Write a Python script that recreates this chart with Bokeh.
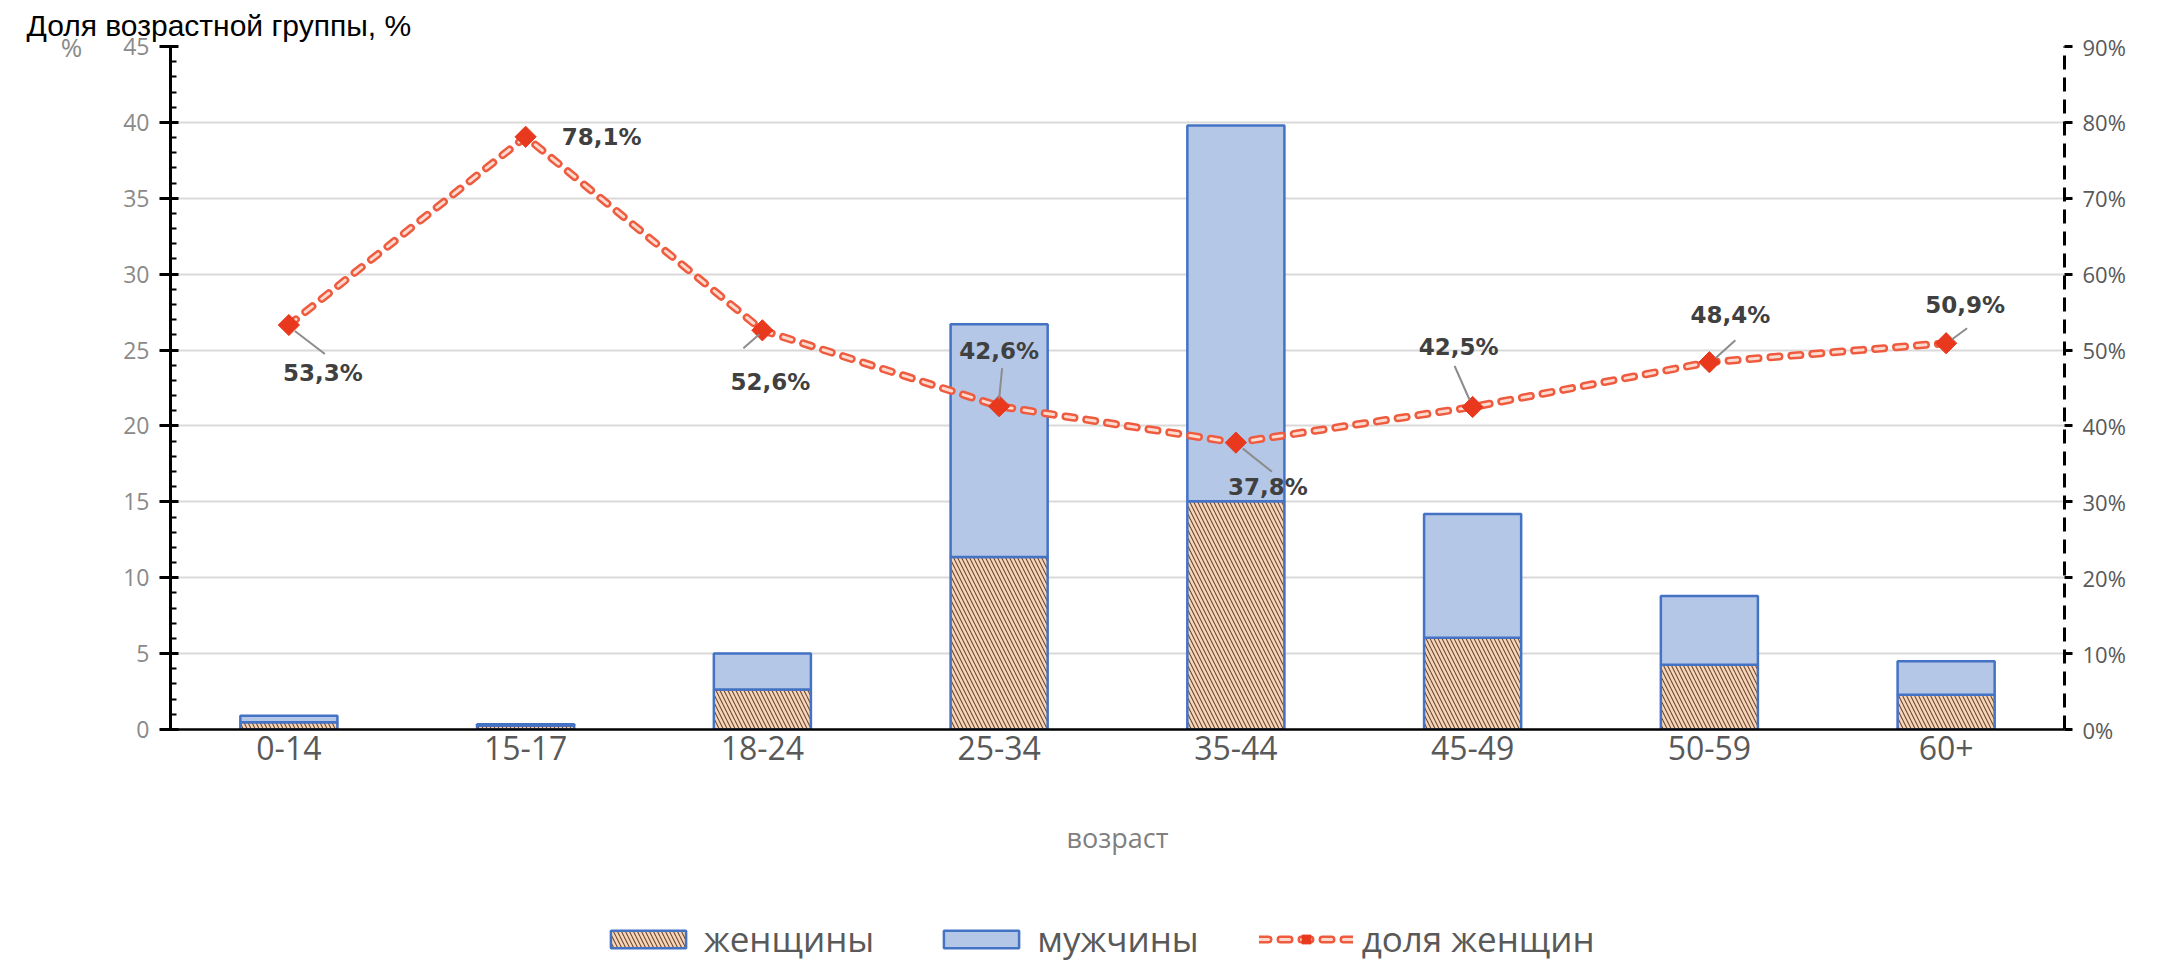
from bokeh.plotting import figure
from bokeh.layouts import column
from bokeh.models import (Range1d, LinearAxis, FixedTicker, Legend, LegendItem,
                          ColumnDataSource)
from bokeh.core.properties import value
from bokeh.embed import file_html
from bokeh.resources import INLINE

# ---- data ----
ages = ["0-14", "15-17", "18-24", "25-34", "35-44", "45-49", "50-59", "60+"]
women = [0.48, 0.27, 2.63, 11.37, 15.04, 6.04, 4.26, 2.29]
men = [0.42, 0.08, 2.37, 15.33, 24.76, 8.16, 4.54, 2.21]
share = [53.3, 78.1, 52.6, 42.6, 37.8, 42.5, 48.4, 50.9]
left_ticks = [0, 5, 10, 15, 20, 25, 30, 35, 40, 45]
right_ticks = [0, 10, 20, 30, 40, 50, 60, 70, 80, 90]
series_names = ["женщины", "мужчины", "доля женщин"]

# ---- label placement (screen px, y down) ----
lab_dx = [34, 76, 8, 0, 32, -14, 21, 19]
lab_dy = [48, 0, 52, -55, 44, -60, -47, -38]
lead = [(6, 6, 36, 29), None, (-3, 4, -19, 18), (0, -7, 3, -38),
        (7, 6, 36, 29), (-3, -7, -18, -41), (6, -4, 26, -22), (6, -4, 21, -15)]

W = 2141
HM, HL = 862, 100
ML, MR, MT = 170, 77, 46
FB = 729
MB = HM - FB
FW, FH = W - ML - MR, FB - MT
PX_X = FW / len(ages)
PX_Y = FH / 90.0

FONT = "Open Sans"
BLUE_EDGE = "#4472C4"
BLUE_FILL = "#B4C7E7"
PEACH = "#F6D6B8"
HATCH = "#6E4634"
LINE_RED = "#EF5B3F"
LINE_IN = "#FCDACE"
MARK = "#E8381E"

p = figure(width=W, height=HM, x_range=Range1d(-0.5, len(ages) - 0.5),
           y_range=Range1d(0, 45), output_backend="svg", toolbar_location=None,
           min_border_left=ML, min_border_right=MR, min_border_top=MT,
           min_border_bottom=MB)
p.extra_y_ranges = {"pct": Range1d(0, 90)}
p.outline_line_color = None
p.background_fill_color = "white"
p.border_fill_color = "white"

p.title.text = "Доля возрастной группы, %"
p.title.align = "left"
p.title.offset = -(ML - 26)
p.title.text_font = "Liberation Sans"
p.title.text_font_size = "30px"
p.title.text_font_style = "normal"
p.title.text_color = "black"
p.title.standoff = 10

xs = list(range(len(ages)))
src = ColumnDataSource(dict(x=xs, women=women, men=men, share=share,
                            lab=[f"{v:.1f}%".replace(".", ",") for v in share],
                            dx=lab_dx, dy=lab_dy))

bar_kw = dict(line_color=BLUE_EDGE, line_width=2.5, hatch_color=HATCH,
              hatch_weight=1.1, hatch_scale=8)
p.vbar_stack(["women", "men"], x="x", width=0.41, source=src,
             fill_color=[PEACH, BLUE_FILL], hatch_pattern=["\\", " "], **bar_kw)

line_out_kw = dict(line_color=LINE_RED, line_width=8, line_dash="9 12", line_cap="round")
line_in_kw = dict(line_color=LINE_IN, line_width=3, line_dash="9 12", line_cap="round")
mark_kw = dict(marker="square", angle=0.7854, size=15, fill_color=MARK, line_color=MARK)

p.line("x", "share", source=src, y_range_name="pct", **line_out_kw)
p.line("x", "share", source=src, y_range_name="pct", **line_in_kw)
p.scatter("x", "share", source=src, y_range_name="pct", **mark_kw)

# leader lines
x0, y0, x1, y1 = [], [], [], []
for i, ld in enumerate(lead):
    if ld is None:
        continue
    a, b, c, d = ld
    x0.append(xs[i] + a / PX_X); y0.append(share[i] - b / PX_Y)
    x1.append(xs[i] + c / PX_X); y1.append(share[i] - d / PX_Y)
p.segment(x0, y0, x1, y1, y_range_name="pct", line_color="#8C8C8C", line_width=2)

p.text(x="x", y="share", text="lab", x_offset="dx", y_offset="dy", source=src,
       y_range_name="pct", text_font=value("DejaVu Sans"), text_font_style="bold",
       text_font_size="23px", text_color="#404040", text_align="center",
       text_baseline="middle")

# left axis
yl = p.yaxis[0]
yl.ticker = FixedTicker(ticks=left_ticks, minor_ticks=list(range(0, 46)))
yl.axis_line_color = "black"
yl.axis_line_width = 3
yl.major_tick_line_color = "black"
yl.major_tick_line_width = 3
yl.major_tick_out = 11
yl.major_tick_in = 8
yl.minor_tick_line_color = "black"
yl.minor_tick_line_width = 2
yl.minor_tick_in = 6
yl.minor_tick_out = 0
yl.major_label_text_color = "#8A8A8A"
yl.major_label_text_font = FONT
yl.major_label_text_font_size = "23px"
yl.major_label_standoff = 10
yl.axis_label = "%"
yl.axis_label_text_color = "#8A8A8A"
yl.axis_label_text_font = FONT
yl.axis_label_text_font_size = "26px"
yl.axis_label_text_font_style = "normal"
yl.axis_label_standoff = 38
props = yl.properties()
if "axis_label_orientation" in props:
    yl.axis_label_orientation = "horizontal"
if "axis_label_align" in props:
    yl.axis_label_align = "end"

p.ygrid.grid_line_color = "#D9D9D9"
p.ygrid.grid_line_width = 2
p.xgrid.visible = False

# right axis
ra = LinearAxis(y_range_name="pct", ticker=FixedTicker(ticks=right_ticks),
                major_label_overrides={t: f"{t}%" for t in right_ticks})
ra.axis_line_color = "black"
ra.axis_line_width = 3
ra.axis_line_dash = "14 8"
ra.major_tick_line_color = "black"
ra.major_tick_line_width = 3
ra.major_tick_out = 8
ra.major_tick_in = 0
ra.minor_tick_line_color = None
ra.major_label_text_color = "#595959"
ra.major_label_text_font = FONT
ra.major_label_text_font_size = "22px"
ra.major_label_standoff = 10
p.add_layout(ra, "right")

# x axis
xa = p.xaxis[0]
xa.ticker = FixedTicker(ticks=xs)
xa.major_label_overrides = {i: a for i, a in enumerate(ages)}
xa.axis_line_color = "black"
xa.axis_line_width = 2.5
xa.major_tick_line_color = None
xa.minor_tick_line_color = None
xa.major_tick_out = 0
xa.major_tick_in = 0
xa.major_label_text_color = "#595959"
xa.major_label_text_font = FONT
xa.major_label_text_font_size = "32px"
xa.major_label_standoff = 6
xa.axis_label = "возраст"
xa.axis_label_text_color = "#7F7F7F"
xa.axis_label_text_font = FONT
xa.axis_label_text_font_size = "27px"
xa.axis_label_text_font_style = "normal"
xa.axis_label_standoff = 56

# ---- legend strip ----
lg = figure(width=W, height=HL, x_range=Range1d(0, 1), y_range=Range1d(0, 1),
            x_axis_type=None, y_axis_type=None, output_backend="svg",
            toolbar_location=None, min_border=0)
lg.outline_line_color = None
lg.xgrid.visible = False
lg.ygrid.visible = False
nan = float("nan")
blank = ColumnDataSource(dict(x=[nan], y=[nan], top=[nan]))
g_w = lg.vbar(x="x", top="top", width=0.1, source=blank, fill_color=PEACH,
              hatch_pattern="\\", **bar_kw)
g_m = lg.vbar(x="x", top="top", width=0.1, source=blank, fill_color=BLUE_FILL,
              **bar_kw)
g_lo = lg.line("x", "y", source=blank, **line_out_kw)
g_li = lg.line("x", "y", source=blank, **line_in_kw)
g_sc = lg.scatter("x", "y", source=blank, **mark_kw)

legend = Legend(items=[LegendItem(label=series_names[0], renderers=[g_w]),
                       LegendItem(label=series_names[1], renderers=[g_m]),
                       LegendItem(label=series_names[2], renderers=[g_lo, g_li, g_sc])],
                orientation="horizontal", location=(431, 0))
legend.label_text_font = FONT
legend.label_text_font_size = "35px"
legend.label_text_color = "#595959"
legend.glyph_width = 94
legend.glyph_height = 22
legend.label_standoff = 9
legend.spacing = 60
legend.border_line_color = None
legend.background_fill_alpha = 0
legend.margin = 0
legend.padding = 0
lg.add_layout(legend, "center")

layout = column(p, lg, spacing=0)

html = file_html(layout, INLINE, title="chart")
html = html.replace("<body>", '<body style="background:#EEEBE3;">', 1)
open("out.html", "w").write(html)
